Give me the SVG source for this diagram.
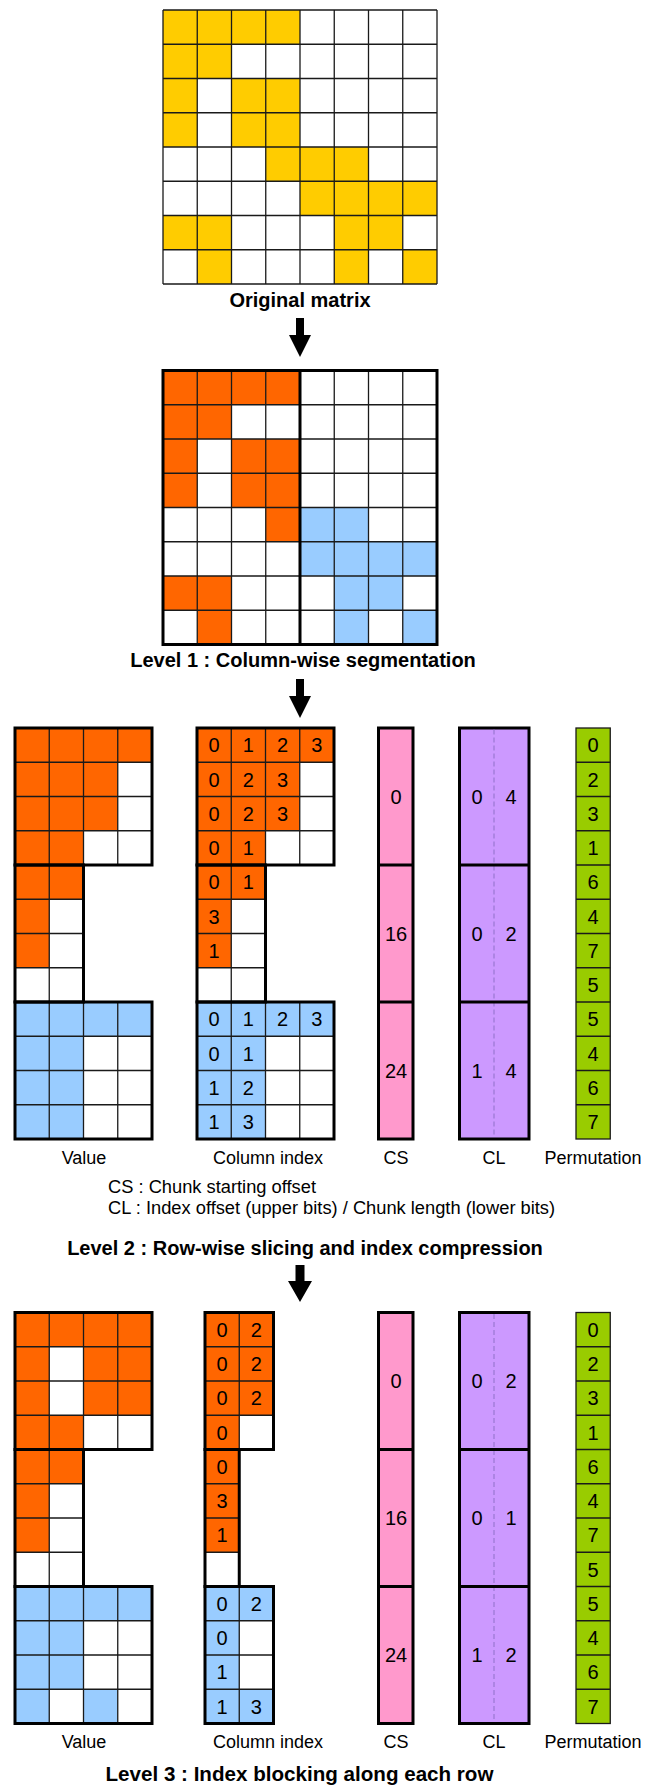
<svg xmlns="http://www.w3.org/2000/svg" width="653" height="1785" viewBox="0 0 653 1785">
<style>
.y{fill:#FFCC00}.o{fill:#FF6600}.b{fill:#99CCFF}
.thin{fill:none;stroke:#1a1a1a;stroke-width:1.3}
.thick{fill:none;stroke:#000;stroke-width:3}
.cs{fill:#FF99CC;stroke:#000;stroke-width:3}
.cl{fill:#CC99FF;stroke:#000;stroke-width:3}
.dash{stroke:#8f70c8;stroke-width:1;stroke-dasharray:5 3;fill:none}
.pm{fill:#99CC00;stroke:#1a1a1a;stroke-width:1.3}
text{font-family:"Liberation Sans",Arial,sans-serif;fill:#000}
.n{font-size:20px;text-anchor:middle}
.lb{font-size:18px;text-anchor:middle}
.nt{font-size:18.3px}
.t{font-size:20px;font-weight:bold;text-anchor:middle}
.arr{fill:#000}
</style>
<rect width="653" height="1785" fill="#fff"/>

<g id="original-matrix">
<rect x="163" y="10" width="274" height="274" fill="#fff"/>
<rect class="y" x="163" y="10" width="137" height="34.25"/>
<rect class="y" x="163" y="44.25" width="68.5" height="34.25"/>
<rect class="y" x="163" y="78.5" width="34.25" height="68.5"/>
<rect class="y" x="231.5" y="78.5" width="68.5" height="68.5"/>
<rect class="y" x="265.75" y="147" width="102.75" height="34.25"/>
<rect class="y" x="300" y="181.25" width="137" height="34.25"/>
<rect class="y" x="163" y="215.5" width="68.5" height="34.25"/>
<rect class="y" x="334.25" y="215.5" width="68.5" height="34.25"/>
<rect class="y" x="197.25" y="249.75" width="34.25" height="34.25"/>
<rect class="y" x="334.25" y="249.75" width="34.25" height="34.25"/>
<rect class="y" x="402.75" y="249.75" width="34.25" height="34.25"/>
<path class="thin" d="M163,10V284M197.25,10V284M231.5,10V284M265.75,10V284M300,10V284M334.25,10V284M368.5,10V284M402.75,10V284M437,10V284M163,10H437M163,44.25H437M163,78.5H437M163,112.75H437M163,147H437M163,181.25H437M163,215.5H437M163,249.75H437M163,284H437"/>
<text class="t" x="300" y="307">Original matrix</text>
</g>

<g id="level1-matrix">
<rect x="163" y="370.5" width="274" height="274" fill="#fff"/>
<rect class="o" x="163" y="370.5" width="137" height="34.25"/>
<rect class="o" x="163" y="404.75" width="68.5" height="34.25"/>
<rect class="o" x="163" y="439" width="34.25" height="68.5"/>
<rect class="o" x="231.5" y="439" width="68.5" height="68.5"/>
<rect class="o" x="265.75" y="507.5" width="34.25" height="34.25"/>
<rect class="b" x="300" y="507.5" width="68.5" height="34.25"/>
<rect class="b" x="300" y="541.75" width="137" height="34.25"/>
<rect class="o" x="163" y="576" width="68.5" height="34.25"/>
<rect class="b" x="334.25" y="576" width="68.5" height="34.25"/>
<rect class="o" x="197.25" y="610.25" width="34.25" height="34.25"/>
<rect class="b" x="334.25" y="610.25" width="34.25" height="34.25"/>
<rect class="b" x="402.75" y="610.25" width="34.25" height="34.25"/>
<path class="thin" d="M197.25,370.5V644.5M231.5,370.5V644.5M265.75,370.5V644.5M334.25,370.5V644.5M368.5,370.5V644.5M402.75,370.5V644.5M163,404.75H437M163,439H437M163,473.25H437M163,507.5H437M163,541.75H437M163,576H437M163,610.25H437"/>
<rect class="thick" x="163" y="370.5" width="274" height="274"/>
<path class="thick" d="M300,370.5V644.5"/>
<text class="t" x="303" y="667">Level 1 : Column-wise segmentation</text>
</g>

<g id="l2-value">
<rect class="o" x="15" y="728" width="137" height="34.25"/>
<rect class="o" x="15" y="762.25" width="102.75" height="68.5"/>
<rect class="o" x="15" y="830.75" width="68.5" height="68.5"/>
<rect class="o" x="15" y="899.25" width="34.25" height="68.5"/>
<rect class="b" x="15" y="1002" width="137" height="34.25"/>
<rect class="b" x="15" y="1036.25" width="68.5" height="102.75"/>
<path class="thin" d="M49.25,728V1139M83.5,728V865M117.75,728V865M83.5,1002V1139M117.75,1002V1139M15,762.25H152M15,796.5H152M15,830.75H152M15,899.25H83.5M15,933.5H83.5M15,967.75H83.5M15,1036.25H152M15,1070.5H152M15,1104.75H152"/>
<rect class="thick" x="15" y="728" width="137" height="137"/>
<rect class="thick" x="15" y="865" width="68.5" height="137"/>
<rect class="thick" x="15" y="1002" width="137" height="137"/>
<text class="lb" x="84" y="1164">Value</text>
</g>

<g id="l2-column-index">
<rect class="o" x="197" y="728" width="137" height="34.25"/>
<rect class="o" x="197" y="762.25" width="102.75" height="68.5"/>
<rect class="o" x="197" y="830.75" width="68.5" height="68.5"/>
<rect class="o" x="197" y="899.25" width="34.25" height="68.5"/>
<rect class="b" x="197" y="1002" width="137" height="34.25"/>
<rect class="b" x="197" y="1036.25" width="68.5" height="102.75"/>
<path class="thin" d="M231.25,728V1139M265.5,728V865M299.75,728V865M265.5,1002V1139M299.75,1002V1139M197,762.25H334M197,796.5H334M197,830.75H334M197,899.25H265.5M197,933.5H265.5M197,967.75H265.5M197,1036.25H334M197,1070.5H334M197,1104.75H334"/>
<rect class="thick" x="197" y="728" width="137" height="137"/>
<rect class="thick" x="197" y="865" width="68.5" height="137"/>
<rect class="thick" x="197" y="1002" width="137" height="137"/>
<text class="n" x="214.1" y="752.3">0</text><text class="n" x="248.4" y="752.3">1</text><text class="n" x="282.6" y="752.3">2</text><text class="n" x="316.9" y="752.3">3</text>
<text class="n" x="214.1" y="786.6">0</text><text class="n" x="248.4" y="786.6">2</text><text class="n" x="282.6" y="786.6">3</text>
<text class="n" x="214.1" y="820.8">0</text><text class="n" x="248.4" y="820.8">2</text><text class="n" x="282.6" y="820.8">3</text>
<text class="n" x="214.1" y="855.1">0</text><text class="n" x="248.4" y="855.1">1</text>
<text class="n" x="214.1" y="889.3">0</text><text class="n" x="248.4" y="889.3">1</text>
<text class="n" x="214.1" y="923.6">3</text>
<text class="n" x="214.1" y="957.8">1</text>
<text class="n" x="214.1" y="1026.3">0</text><text class="n" x="248.4" y="1026.3">1</text><text class="n" x="282.6" y="1026.3">2</text><text class="n" x="316.9" y="1026.3">3</text>
<text class="n" x="214.1" y="1060.6">0</text><text class="n" x="248.4" y="1060.6">1</text>
<text class="n" x="214.1" y="1094.8">1</text><text class="n" x="248.4" y="1094.8">2</text>
<text class="n" x="214.1" y="1129.1">1</text><text class="n" x="248.4" y="1129.1">3</text>
<text class="lb" x="268" y="1164">Column index</text>
</g>

<g id="l2-cs">
<rect class="cs" x="378.5" y="728" width="34.5" height="411"/>
<path class="thick" d="M378.5,865H413M378.5,1002H413"/>
<text class="n" x="396" y="803.6">0</text>
<text class="n" x="396" y="940.6">16</text>
<text class="n" x="396" y="1077.6">24</text>
<text class="lb" x="396" y="1164">CS</text>
</g>

<g id="l2-cl">
<rect class="cl" x="459.5" y="728" width="69.5" height="411"/>
<path class="dash" d="M494,729.5V1137.5"/>
<path class="thick" d="M459.5,865H529M459.5,1002H529"/>
<text class="n" x="477" y="803.6">0</text><text class="n" x="511" y="803.6">4</text>
<text class="n" x="477" y="940.6">0</text><text class="n" x="511" y="940.6">2</text>
<text class="n" x="477" y="1077.6">1</text><text class="n" x="511" y="1077.6">4</text>
<text class="lb" x="494" y="1164">CL</text>
</g>

<g id="l2-permutation">
<rect class="pm" x="576" y="728" width="34.25" height="411"/>
<path class="thin" d="M576,762.25H610.25M576,796.5H610.25M576,830.75H610.25M576,865H610.25M576,899.25H610.25M576,933.5H610.25M576,967.75H610.25M576,1002H610.25M576,1036.25H610.25M576,1070.5H610.25M576,1104.75H610.25"/>
<text class="n" x="593.1" y="752.3">0</text>
<text class="n" x="593.1" y="786.6">2</text>
<text class="n" x="593.1" y="820.8">3</text>
<text class="n" x="593.1" y="855.1">1</text>
<text class="n" x="593.1" y="889.3">6</text>
<text class="n" x="593.1" y="923.6">4</text>
<text class="n" x="593.1" y="957.8">7</text>
<text class="n" x="593.1" y="992.1">5</text>
<text class="n" x="593.1" y="1026.3">5</text>
<text class="n" x="593.1" y="1060.6">4</text>
<text class="n" x="593.1" y="1094.8">6</text>
<text class="n" x="593.1" y="1129.1">7</text>
<text class="lb" x="593" y="1164">Permutation</text>
</g>

<g id="notes">
<text class="nt" x="108" y="1193">CS : Chunk starting offset</text>
<text class="nt" x="108" y="1214">CL : Index offset (upper bits) / Chunk length (lower bits)</text>
<text class="t" x="305" y="1255">Level 2 : Row-wise slicing and index compression</text>
</g>

<g id="l3-value">
<rect class="o" x="15" y="1312.5" width="137" height="34.25"/>
<rect class="o" x="15" y="1346.75" width="34.25" height="68.5"/>
<rect class="o" x="83.5" y="1346.75" width="68.5" height="68.5"/>
<rect class="o" x="15" y="1415.25" width="68.5" height="68.5"/>
<rect class="o" x="15" y="1483.75" width="34.25" height="68.5"/>
<rect class="b" x="15" y="1586.5" width="137" height="34.25"/>
<rect class="b" x="15" y="1620.75" width="68.5" height="68.5"/>
<rect class="b" x="15" y="1689.25" width="34.25" height="34.25"/>
<rect class="b" x="83.5" y="1689.25" width="34.25" height="34.25"/>
<path class="thin" d="M49.25,1312.5V1723.5M83.5,1312.5V1449.5M117.75,1312.5V1449.5M83.5,1586.5V1723.5M117.75,1586.5V1723.5M15,1346.75H152M15,1381H152M15,1415.25H152M15,1483.75H83.5M15,1518H83.5M15,1552.25H83.5M15,1620.75H152M15,1655H152M15,1689.25H152"/>
<rect class="thick" x="15" y="1312.5" width="137" height="137"/>
<rect class="thick" x="15" y="1449.5" width="68.5" height="137"/>
<rect class="thick" x="15" y="1586.5" width="137" height="137"/>
<text class="lb" x="84" y="1748">Value</text>
</g>

<g id="l3-column-index">
<rect class="o" x="205" y="1312.5" width="68.5" height="102.75"/>
<rect class="o" x="205" y="1415.25" width="34.25" height="34.25"/>
<rect class="o" x="205" y="1449.5" width="34.25" height="102.75"/>
<rect class="b" x="205" y="1586.5" width="68.5" height="34.25"/>
<rect class="b" x="205" y="1620.75" width="34.25" height="68.5"/>
<rect class="b" x="205" y="1689.25" width="68.5" height="34.25"/>
<path class="thin" d="M239.25,1312.5V1449.5M239.25,1586.5V1723.5M205,1346.75H273.5M205,1381H273.5M205,1415.25H273.5M205,1483.75H239.25M205,1518H239.25M205,1552.25H239.25M205,1620.75H273.5M205,1655H273.5M205,1689.25H273.5"/>
<rect class="thick" x="205" y="1312.5" width="68.5" height="137"/>
<rect class="thick" x="205" y="1449.5" width="34.25" height="137"/>
<rect class="thick" x="205" y="1586.5" width="68.5" height="137"/>
<text class="n" x="222.1" y="1336.8">0</text><text class="n" x="256.4" y="1336.8">2</text>
<text class="n" x="222.1" y="1371.1">0</text><text class="n" x="256.4" y="1371.1">2</text>
<text class="n" x="222.1" y="1405.3">0</text><text class="n" x="256.4" y="1405.3">2</text>
<text class="n" x="222.1" y="1439.6">0</text>
<text class="n" x="222.1" y="1473.8">0</text>
<text class="n" x="222.1" y="1508.1">3</text>
<text class="n" x="222.1" y="1542.3">1</text>
<text class="n" x="222.1" y="1610.8">0</text><text class="n" x="256.4" y="1610.8">2</text>
<text class="n" x="222.1" y="1645.1">0</text>
<text class="n" x="222.1" y="1679.3">1</text>
<text class="n" x="222.1" y="1713.6">1</text><text class="n" x="256.4" y="1713.6">3</text>
<text class="lb" x="268" y="1748">Column index</text>
</g>

<g id="l3-cs">
<rect class="cs" x="378.5" y="1312.5" width="34.5" height="411"/>
<path class="thick" d="M378.5,1449.5H413M378.5,1586.5H413"/>
<text class="n" x="396" y="1388.2">0</text>
<text class="n" x="396" y="1525.2">16</text>
<text class="n" x="396" y="1662.2">24</text>
<text class="lb" x="396" y="1748">CS</text>
</g>

<g id="l3-cl">
<rect class="cl" x="459.5" y="1312.5" width="69.5" height="411"/>
<path class="dash" d="M494,1314V1722"/>
<path class="thick" d="M459.5,1449.5H529M459.5,1586.5H529"/>
<text class="n" x="477" y="1388.2">0</text><text class="n" x="511" y="1388.2">2</text>
<text class="n" x="477" y="1525.2">0</text><text class="n" x="511" y="1525.2">1</text>
<text class="n" x="477" y="1662.2">1</text><text class="n" x="511" y="1662.2">2</text>
<text class="lb" x="494" y="1748">CL</text>
</g>

<g id="l3-permutation">
<rect class="pm" x="576" y="1312.5" width="34.25" height="411"/>
<path class="thin" d="M576,1346.75H610.25M576,1381H610.25M576,1415.25H610.25M576,1449.5H610.25M576,1483.75H610.25M576,1518H610.25M576,1552.25H610.25M576,1586.5H610.25M576,1620.75H610.25M576,1655H610.25M576,1689.25H610.25"/>
<text class="n" x="593.1" y="1336.8">0</text>
<text class="n" x="593.1" y="1371.1">2</text>
<text class="n" x="593.1" y="1405.3">3</text>
<text class="n" x="593.1" y="1439.6">1</text>
<text class="n" x="593.1" y="1473.8">6</text>
<text class="n" x="593.1" y="1508.1">4</text>
<text class="n" x="593.1" y="1542.3">7</text>
<text class="n" x="593.1" y="1576.6">5</text>
<text class="n" x="593.1" y="1610.8">5</text>
<text class="n" x="593.1" y="1645.1">4</text>
<text class="n" x="593.1" y="1679.3">6</text>
<text class="n" x="593.1" y="1713.6">7</text>
<text class="lb" x="593" y="1748">Permutation</text>
</g>

<text class="t" x="299.5" y="1781" style="font-size:20.6px">Level 3 : Index blocking along each row</text>

<g id="connectors">
<path class="arr" d="M296,318H304V335H311L300,357L289,335H296Z"/>
<path class="arr" d="M296,679H304V696H311L300,718L289,696H296Z"/>
<path class="arr" d="M295.5,1265H304.5V1281H312L300,1302L288,1281H295.5Z"/>
</g>
</svg>
